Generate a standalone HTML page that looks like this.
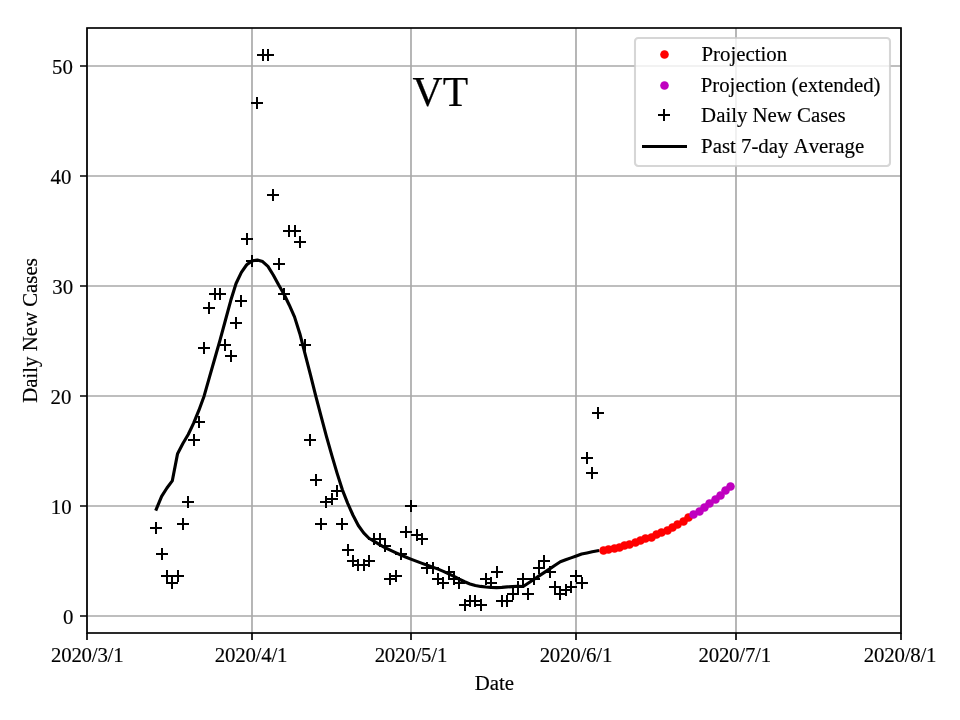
<!DOCTYPE html>
<html lang="en"><head><meta charset="utf-8"><title>VT - Daily New Cases</title>
<style>html,body{margin:0;padding:0;background:#fff;}body{width:960px;height:720px;overflow:hidden;}svg{display:block;}text{font-family:"Liberation Serif",serif;fill:#000;font-kerning:none;font-variant-ligatures:none;stroke:#000;stroke-width:0.16px;stroke-linejoin:round;}</style></head><body>
<svg width="960" height="720" viewBox="0 0 960 720">
<rect width="960" height="720" fill="#fff"/>
<path d="M87 633V28M252 633V28M411 633V28M576 633V28M736 633V28M901 633V28M87 616H901M87 506H901M87 396H901M87 286H901M87 176H901M87 66H901" stroke="#a9a9a9" stroke-width="1.667" fill="none"/>
<path d="M87 633v7M252 633v7M411 633v7M576 633v7M736 633v7M901 633v7M87 616h-7M87 506h-7M87 396h-7M87 286h-7M87 176h-7M87 66h-7" stroke="#000" stroke-width="1.667" fill="none"/>
<g fill="#ff0000"><circle cx="603.5" cy="550.5" r="4.3"/><circle cx="608.5" cy="549.5" r="4.3"/><circle cx="614.5" cy="548.5" r="4.3"/><circle cx="619.5" cy="547.5" r="4.3"/><circle cx="624.5" cy="545.5" r="4.3"/><circle cx="629.5" cy="544.5" r="4.3"/><circle cx="635.5" cy="542.5" r="4.3"/><circle cx="640.5" cy="540.5" r="4.3"/><circle cx="645.5" cy="538.5" r="4.3"/><circle cx="651.5" cy="537.5" r="4.3"/><circle cx="656.5" cy="534.5" r="4.3"/><circle cx="661.5" cy="532.5" r="4.3"/><circle cx="667.5" cy="530.5" r="4.3"/><circle cx="672.5" cy="527.5" r="4.3"/><circle cx="677.5" cy="524.5" r="4.3"/><circle cx="683.5" cy="521.5" r="4.3"/><circle cx="688.5" cy="517.5" r="4.3"/></g>
<g fill="#bf00bf"><circle cx="693.5" cy="514.5" r="4.3"/><circle cx="699.5" cy="511.5" r="4.3"/><circle cx="704.5" cy="507.5" r="4.3"/><circle cx="709.5" cy="503.5" r="4.3"/><circle cx="715.5" cy="499.5" r="4.3"/><circle cx="720.5" cy="495.5" r="4.3"/><circle cx="725.5" cy="490.5" r="4.3"/><circle cx="730.5" cy="486.5" r="4.3"/></g>
<path d="M150 527h12v2h-12zM155 522h2v12h-2zM156 553h12v2h-12zM161 548h2v12h-2zM161 575h12v2h-12zM166 570h2v12h-2zM166 582h12v2h-12zM171 577h2v12h-2zM172 575h12v2h-12zM177 570h2v12h-2zM177 523h12v2h-12zM182 518h2v12h-2zM182 501h12v2h-12zM187 496h2v12h-2zM188 439h12v2h-12zM193 434h2v12h-2zM193 421h12v2h-12zM198 416h2v12h-2zM198 347h12v2h-12zM203 342h2v12h-2zM203 307h12v2h-12zM208 302h2v12h-2zM209 293h12v2h-12zM214 288h2v12h-2zM214 293h12v2h-12zM219 288h2v12h-2zM219 344h12v2h-12zM224 339h2v12h-2zM225 355h12v2h-12zM230 350h2v12h-2zM230 322h12v2h-12zM235 317h2v12h-2zM235 300h12v2h-12zM240 295h2v12h-2zM241 238h12v2h-12zM246 233h2v12h-2zM246 260h12v2h-12zM251 255h2v12h-2zM251 102h12v2h-12zM256 97h2v12h-2zM257 54h12v2h-12zM262 49h2v12h-2zM262 54h12v2h-12zM267 49h2v12h-2zM267 194h12v2h-12zM272 189h2v12h-2zM273 263h12v2h-12zM278 258h2v12h-2zM278 293h12v2h-12zM283 288h2v12h-2zM283 230h12v2h-12zM288 225h2v12h-2zM289 230h12v2h-12zM294 225h2v12h-2zM294 241h12v2h-12zM299 236h2v12h-2zM299 344h12v2h-12zM304 339h2v12h-2zM304 439h12v2h-12zM309 434h2v12h-2zM310 479h12v2h-12zM315 474h2v12h-2zM315 523h12v2h-12zM320 518h2v12h-2zM320 501h12v2h-12zM325 496h2v12h-2zM326 498h12v2h-12zM331 493h2v12h-2zM331 490h12v2h-12zM336 485h2v12h-2zM336 523h12v2h-12zM341 518h2v12h-2zM342 549h12v2h-12zM347 544h2v12h-2zM347 560h12v2h-12zM352 555h2v12h-2zM352 564h12v2h-12zM357 559h2v12h-2zM358 564h12v2h-12zM363 559h2v12h-2zM363 560h12v2h-12zM368 555h2v12h-2zM368 538h12v2h-12zM373 533h2v12h-2zM374 538h12v2h-12zM379 533h2v12h-2zM379 545h12v2h-12zM384 540h2v12h-2zM384 578h12v2h-12zM389 573h2v12h-2zM390 575h12v2h-12zM395 570h2v12h-2zM395 553h12v2h-12zM400 548h2v12h-2zM400 531h12v2h-12zM405 526h2v12h-2zM405 505h12v2h-12zM410 500h2v12h-2zM411 534h12v2h-12zM416 529h2v12h-2zM416 538h12v2h-12zM421 533h2v12h-2zM421 567h12v2h-12zM426 562h2v12h-2zM427 567h12v2h-12zM432 562h2v12h-2zM432 578h12v2h-12zM437 573h2v12h-2zM437 582h12v2h-12zM442 577h2v12h-2zM443 571h12v2h-12zM448 566h2v12h-2zM448 578h12v2h-12zM453 573h2v12h-2zM453 582h12v2h-12zM458 577h2v12h-2zM459 604h12v2h-12zM464 599h2v12h-2zM464 600h12v2h-12zM469 595h2v12h-2zM469 600h12v2h-12zM474 595h2v12h-2zM475 604h12v2h-12zM480 599h2v12h-2zM480 578h12v2h-12zM485 573h2v12h-2zM485 582h12v2h-12zM490 577h2v12h-2zM491 571h12v2h-12zM496 566h2v12h-2zM496 600h12v2h-12zM501 595h2v12h-2zM501 600h12v2h-12zM506 595h2v12h-2zM507 593h12v2h-12zM512 588h2v12h-2zM512 586h12v2h-12zM517 581h2v12h-2zM517 578h12v2h-12zM522 573h2v12h-2zM522 593h12v2h-12zM527 588h2v12h-2zM528 578h12v2h-12zM533 573h2v12h-2zM533 567h12v2h-12zM538 562h2v12h-2zM538 560h12v2h-12zM543 555h2v12h-2zM544 571h12v2h-12zM549 566h2v12h-2zM549 586h12v2h-12zM554 581h2v12h-2zM554 593h12v2h-12zM559 588h2v12h-2zM560 589h12v2h-12zM565 584h2v12h-2zM565 586h12v2h-12zM570 581h2v12h-2zM570 575h12v2h-12zM575 570h2v12h-2zM576 582h12v2h-12zM581 577h2v12h-2zM581 457h12v2h-12zM586 452h2v12h-2zM586 472h12v2h-12zM591 467h2v12h-2zM592 412h12v2h-12zM597 407h2v12h-2z" fill="#000"/>
<polyline points="156.31,509.19 161.62,496.33 166.94,487.97 172.26,480.93 177.57,453.66 182.89,443.43 188.21,434.52 193.52,423.42 198.84,410.44 204.15,395.93 209.47,377.12 214.79,358.54 220.10,339.84 225.42,320.27 230.74,300.58 236.05,283.54 241.37,272.32 246.69,264.73 252.00,260.88 257.32,260.00 262.64,261.54 267.95,266.38 273.27,274.96 278.58,284.75 283.90,293.98 289.22,304.98 294.53,316.86 299.85,333.68 305.17,354.36 310.48,374.92 315.80,396.15 321.12,416.31 326.43,436.29 331.75,455.09 337.06,473.12 342.38,489.84 347.70,503.37 353.01,515.24 358.33,525.47 363.65,532.84 368.96,538.23 374.28,541.31 379.60,544.60 384.91,547.57 390.23,550.20 395.55,552.69 400.86,555.05 406.18,557.25 411.49,559.34 416.81,561.40 422.13,563.40 427.44,565.34 432.76,567.13 438.08,569.10 443.39,571.36 448.71,573.80 454.03,576.43 459.34,579.25 464.66,581.77 469.97,583.94 475.29,585.52 480.61,586.42 485.92,586.98 491.24,587.42 496.56,587.60 501.87,587.38 507.19,586.93 512.51,586.57 517.82,586.29 523.14,586.50 528.46,582.97 533.77,579.43 539.09,575.90 544.40,572.36 549.72,568.83 555.04,565.29 560.35,561.76 565.67,559.82 570.99,557.88 576.30,555.94 581.62,554.01 586.94,552.93 592.25,551.84 597.57,550.76" stroke="#000" stroke-width="3.125" fill="none" stroke-linejoin="round" stroke-linecap="square"/>
<rect x="87" y="28" width="814" height="605" fill="none" stroke="#000" stroke-width="1.667"/>
<text x="87.2" y="662" font-size="20.83" text-anchor="middle" letter-spacing="-0.2">2020/3/1</text>
<text x="251.0" y="662" font-size="20.83" text-anchor="middle" letter-spacing="-0.2">2020/4/1</text>
<text x="410.9" y="662" font-size="20.83" text-anchor="middle" letter-spacing="-0.2">2020/5/1</text>
<text x="575.9" y="662" font-size="20.83" text-anchor="middle" letter-spacing="-0.2">2020/6/1</text>
<text x="734.7" y="662" font-size="20.83" text-anchor="middle" letter-spacing="-0.2">2020/7/1</text>
<text x="900.1" y="662" font-size="20.83" text-anchor="middle" letter-spacing="-0.2">2020/8/1</text>
<text x="73.3" y="623.9" font-size="20.83" text-anchor="end">0</text>
<text x="71.6" y="513.9" font-size="20.83" text-anchor="end">10</text>
<text x="71.4" y="403.9" font-size="20.83" text-anchor="end">20</text>
<text x="73.1" y="294.0" font-size="20.83" text-anchor="end">30</text>
<text x="71.4" y="184.0" font-size="20.83" text-anchor="end">40</text>
<text x="72.8" y="74.0" font-size="20.83" text-anchor="end">50</text>
<text x="494.4" y="690" font-size="20.83" text-anchor="middle">Date</text>
<text transform="translate(37 330.5) rotate(-90)" font-size="20.83" text-anchor="middle">Daily New Cases</text>
<text x="412.6" y="106.2" font-size="41.67">VT</text>
<rect x="635" y="38" width="255" height="128" rx="3.2" fill="#fff" fill-opacity="0.8" stroke="#cccccc" stroke-opacity="0.8" stroke-width="2.083"/>
<circle cx="664.5" cy="54.5" r="4.3" fill="#ff0000"/>
<circle cx="664.5" cy="85.5" r="4.3" fill="#bf00bf"/>
<path d="M658 114h12v2h-12zM663 109h2v12h-2z" fill="#000"/>
<rect x="642" y="145" width="45" height="3" fill="#000"/>
<text x="701.5" y="61.0" font-size="20.83">Projection</text>
<text x="700.7" y="91.7" font-size="20.83">Projection (extended)</text>
<text x="701.1" y="122.3" font-size="20.83">Daily New Cases</text>
<text x="701.1" y="153.0" font-size="20.83">Past 7-day Average</text>
</svg></body></html>
